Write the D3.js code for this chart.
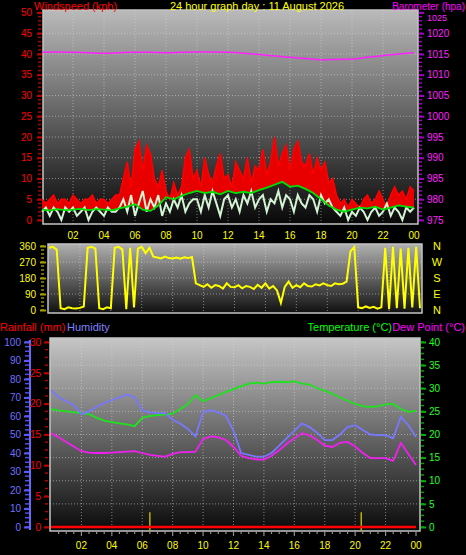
<!DOCTYPE html>
<html><head><meta charset="utf-8">
<script src="https://cdn.jsdelivr.net/npm/d3@7"></script>
<style>body{margin:0;background:#000}svg{display:block}text{font-family:"Liberation Sans",Arial,sans-serif}</style>
</head><body><svg id="c" width="466" height="555"></svg>
<script>
// ---------- DATA ----------
const title = "24 hour graph day : 11 August 2026";
const hourTicks = [2,4,6,8,10,12,14,16,18,20,22,24];
const hourLabels = ["02","04","06","08","10","12","14","16","18","20","22","00"];

// wind, 15-minute samples from 00:00 to 24:00 (kph)
const windGust = [5,4,5,6, 4,5,5,4, 6,5,4,5, 5,6,4,5, 5,4,5,6, 6,10,14,8,
  17,19,12,18, 16,10,8,12, 7,5,9,6, 8,15,17,10, 12,8,15,11, 9,13,16,10,
  11,8,14,12, 10,15,9,13, 12,17,11,14, 20,13,16,18, 12,17,19,14, 13,16,11,15,
  12,14,9,10, 6,4,5,3, 5,4,3,5, 6,4,5,7, 5,3,6,8, 6,7,5,8, 7];
const windSpeed = [2,3,1,3, 2,0,3,2, 3,1,2,3, 0,2,3,2, 1,3,2,2, 3,5,2,6,
  1,4,7,2, 5,3,6,1, 4,2,5,3, 6,2,4,5, 5,2,6,3, 7,4,1,5,
  6,3,5,2, 6,4,7,3, 5,6,2,5, 4,7,3,6, 5,2,6,4, 3,6,5,2,
  6,4,5,3, 2,1,3,0, 2,1,3,2, 0,2,3,1, 2,4,1,3, 2,0,3,2, 3];
// average wind, 30-minute samples
const windAvg = [2.5,2.3,2.6,2.4,2.5,2.7,2.4,2.6,2.5,2.3,
  2.8,3.2,3.8,2.5,2.2,3.5,5.5,5,5.8,6.5,
  7,6.5,6.8,6.2,7,6.5,6.8,6.5,7.2,7.8,
  8.5,9.2,8,8.3,7.5,6.5,5,3.5,2.5,2,
  2.5,3,2.8,3.2,2.5,3,3.5,3.2,3];
// barometer, hourly (hPa)
const baro = [1015.4,1015.5,1015.4,1015.3,1015.2,1015.3,1015.4,1015.4,1015.3,1015.4,1015.5,1015.5,
  1015.4,1015.2,1014.9,1014.5,1014.2,1013.9,1013.6,1013.7,1013.8,1014.2,1014.6,1015.0,1015.3];
// wind direction, 15-minute samples (degrees)
const windDir = [350,355,340,10, 5,15,10,8, 12,20,350,355, 345,10,5,15, 10,350,355,340, 5,350,15,345,
  355,320,350,300, 295,290,300,292, 290,295,288,296, 292,298,150,140, 130,145,125,140, 135,120,150,130,
  128,140,122,135, 130,118,142,125, 150,120,135,110, 40,130,160,125, 140,128,150,135, 132,145,138,150,
  140,135,150,145, 148,160,330,355, 15,10,20,12, 18,8,15,350, 5,355,10,345, 8,350,15,355, 10];
// temperature / dew point (°C), humidity (%), 30-minute samples
const temperature = [25.5,25.2,25.0,24.8,24.6,24.4,23.6,23.0,22.7,22.4,22.2,21.8,23.6,24.0,24.2,24.3,24.5,25.5,
  26.6,28.5,27.2,27.8,28.5,29.2,29.8,30.4,31.0,31.2,31.0,31.3,31.4,31.3,31.5,31.0,30.8,30.0,
  29.5,28.8,28.0,27.3,26.6,26.1,26.0,26.1,26.5,26.6,25.5,24.9,25.1];
const dewPoint = [20.3,19.4,18.4,17.4,16.4,16.1,16.0,16.0,16.1,16.2,16.3,16.4,16.0,15.6,15.4,15.2,15.8,16.2,
  16.2,16.3,19.0,19.6,19.4,18.8,17.3,15.4,14.9,14.6,14.6,15.4,16.6,18.0,19.2,20.3,19.8,18.8,
  17.6,17.3,18.2,18.4,17.4,16.0,14.9,14.9,14.9,14.3,18.2,15.8,13.4];
const humidity = [74,70,68,66,61,62.5,65,67,68.5,70,71.5,70,63,62,61.6,61.6,58,56,
  53,49,62,63.2,62,60,52,40,39,38,38,40,44,48,52,56,54,51,
  47,47,50,54,55,52.4,50,49.7,49.7,48,59.5,55,48.6];
// rainfall (mm) hourly, and marker times
const rainfall = [0,0,0,0,0,0,0,0,0,0,0,0,0,0,0,0,0,0,0,0,0,0,0,0,0];
const rainMarkTimes = [6.5, 20.4];
const rainMarkValues = [2.4, 2.4];
const dirLetters = ["N","W","S","E","N"];

// ---------- DRAW ----------
const svg = d3.select("#c");
const defs = svg.append("defs");
function grad(id, c0, c1){
  const g = defs.append("linearGradient").attr("id",id).attr("x1",0).attr("y1",0).attr("x2",0).attr("y2",1);
  g.append("stop").attr("offset",0).attr("stop-color",c0);
  g.append("stop").attr("offset",1).attr("stop-color",c1);
}
grad("gTop","#bababa","#080808");
grad("gMid","#b0b0b0","#101010");
grad("gBot","#c6c6c6","#0a0a0a");

const t15 = d3.range(97).map(i=>i*0.25);
const t30 = d3.range(49).map(i=>i*0.5);
const t60 = d3.range(25);

function panel(x0,y0,x1,y1,gid){
  svg.append("rect").attr("x",x0).attr("y",y0).attr("width",x1-x0).attr("height",y1-y0)
    .attr("fill","url(#"+gid+")").attr("stroke","#c4c4c4").attr("stroke-width",1.5);
}
function grid(xs, ys, x0,x1,y0,y1){
  const g = svg.append("g").attr("stroke","#d8d8d8").attr("stroke-opacity",0.55)
    .attr("stroke-dasharray","1,2").attr("stroke-width",1);
  ys.forEach(y=>g.append("line").attr("x1",x0).attr("x2",x1).attr("y1",y).attr("y2",y));
  xs.forEach(x=>g.append("line").attr("x1",x).attr("x2",x).attr("y1",y0).attr("y2",y1));
}
function styleAxis(g, tickColor, textColor, size){
  g.select(".domain").remove();
  g.selectAll("line").attr("stroke",tickColor).attr("stroke-width",2);
  g.selectAll("text").attr("fill",textColor).style("font-size",(size||10)+"px")
    .style("font-family","'Liberation Sans',Arial,sans-serif");
}
function minor(scale, vals, x, len, color){
  const g = svg.append("g").attr("stroke",color).attr("stroke-width",1.5);
  vals.forEach(v=>g.append("line").attr("x1",x).attr("x2",x+len).attr("y1",scale(v)).attr("y2",scale(v)));
}
function text(x,y,s,color,anchor,size){
  svg.append("text").attr("x",x).attr("y",y).attr("fill",color).attr("text-anchor",anchor||"start")
    .style("font-size",(size||11)+"px").text(s);
}
const fmt = d3.format("d");

// ---- TOP PANEL ----
const xT = d3.scaleLinear([0,24],[42,414]);
const yW = d3.scaleLinear([0,50],[220,12.5]);
const yP = d3.scaleLinear([975,1025],[220,12.5]);
panel(43,10,418,224,"gTop");
grid(hourTicks.slice(0,11).map(xT), d3.range(5,50,5).map(yW), 43,418,10,224);

const avgAt = d3.scaleLinear(t30, windAvg);
svg.append("path").datum(t15.map((t,i)=>({t, g:windGust[i]})))
  .attr("fill","#e80000")
  .attr("d", d3.area().x(d=>xT(d.t)).y0(d=>yW(avgAt(d.t))).y1(d=>yW(d.g)));
svg.append("path").datum(windGust).attr("fill","none").attr("stroke","#ff0000").attr("stroke-width",1.5)
  .attr("d", d3.line().x((d,i)=>xT(t15[i])).y(d=>yW(d)));
svg.append("path").datum(windSpeed).attr("fill","none").attr("stroke","#d4f5d4").attr("stroke-width",2)
  .attr("d", d3.line().x((d,i)=>xT(t15[i])).y(d=>yW(d)));
svg.append("path").datum(windAvg).attr("fill","none").attr("stroke","#00e000").attr("stroke-width",1.8)
  .attr("d", d3.line().x((d,i)=>xT(t30[i])).y(d=>yW(d)));
svg.append("path").datum(baro).attr("fill","none").attr("stroke","#ff20ff").attr("stroke-width",1.5)
  .attr("d", d3.line().curve(d3.curveMonotoneX).x((d,i)=>xT(t60[i])).y(d=>yP(d)));

minor(yW, d3.range(0,51,1), 38, 3, "#b00000");
styleAxis(svg.append("g").attr("transform","translate(42,0)")
  .call(d3.axisLeft(yW).tickValues(d3.range(0,51,5)).tickFormat(fmt).tickSize(5).tickPadding(5)), "#c00000", "#ff0000");
minor(yP, d3.range(975,1026,1), 419, 3, "#a000c0");
const rAx = svg.append("g").attr("transform","translate(419,0)")
  .call(d3.axisRight(yP).tickValues(d3.range(975,1026,5)).tickFormat(fmt).tickSize(5).tickPadding(3));
styleAxis(rAx, "#a000c0", "#ff20ff");
// nudge the topmost barometer label below the heading
rAx.selectAll(".tick").filter(d=>d===1025).select("text").attr("dy","0.85em").style("font-size","9px");

// top hour labels
hourTicks.forEach((h,i)=>text(xT(h),239,hourLabels[i],"#ffff00","middle",10));

text(34,10,"Windspeed (kph)","#ff0000","start");
text(257,10,title,"#ffff00","middle");
text(465,9.5,"Barometer (hpa)","#ff00ff","end",10);

// ---- MIDDLE PANEL ----
const xM = d3.scaleLinear([0,24],[49,420]);
const yD = d3.scaleLinear([0,360],[310,246]);
panel(48,244,422,313,"gMid");
grid(hourTicks.slice(0,11).map(xM), [90,180,270].map(yD), 48,422,244,313);
svg.append("path").datum(windDir).attr("fill","none").attr("stroke","#ffff00").attr("stroke-width",2)
  .attr("d", d3.line().x((d,i)=>xM(t15[i])).y(d=>yD(d)));
minor(yD, d3.range(0,361,22.5), 41, 3, "#909000");
styleAxis(svg.append("g").attr("transform","translate(46,0)")
  .call(d3.axisLeft(yD).tickValues([0,90,180,270,360]).tickSize(6).tickPadding(4)), "#a0a000", "#ffff00");
dirLetters.forEach((l,i)=>text(437,yD(360-i*90)+4,l,"#ffff00","middle",11));

// ---- BOTTOM PANEL ----
const xB = d3.scaleLinear([0,24],[51,416]);
const yH = d3.scaleLinear([0,100],[527,342]);
const yR = d3.scaleLinear([0,30],[527,342]);
const yT = d3.scaleLinear([0,40],[527,342]);
panel(50,338,420,531,"gBot");
grid(hourTicks.slice(0,11).map(xB), d3.range(5,40,5).map(yT), 50,420,338,531);

svg.append("path").datum(temperature).attr("fill","none").attr("stroke","#20e020").attr("stroke-width",1.8)
  .attr("d", d3.line().x((d,i)=>xB(t30[i])).y(d=>yT(d)));
svg.append("path").datum(humidity).attr("fill","none").attr("stroke","#7878ff").attr("stroke-width",1.8)
  .attr("d", d3.line().x((d,i)=>xB(t30[i])).y(d=>yH(d)));
svg.append("path").datum(dewPoint).attr("fill","none").attr("stroke","#f020f0").attr("stroke-width",1.8)
  .attr("d", d3.line().x((d,i)=>xB(t30[i])).y(d=>yT(d)));
rainMarkTimes.forEach((t,i)=>svg.append("line").attr("x1",xB(t)).attr("x2",xB(t))
  .attr("y1",yR(rainMarkValues[i])).attr("y2",531).attr("stroke","#c0b000").attr("stroke-width",1.5));
svg.append("path").datum(rainfall).attr("fill","none").attr("stroke","#ff0000").attr("stroke-width",2.5)
  .attr("d", d3.line().x((d,i)=>xB(t60[i])).y(d=>yR(d)));

// humidity axis
svg.append("line").attr("x1",30).attr("x2",30).attr("y1",340).attr("y2",530).attr("stroke","#6868ff").attr("stroke-width",2);
minor(yH, d3.range(0,101,2.5), 25, 4, "#5050e0");
styleAxis(svg.append("g").attr("transform","translate(29,0)")
  .call(d3.axisLeft(yH).tickValues(d3.range(0,101,10)).tickSize(5).tickPadding(3)), "#5858ff", "#7070ff");
minor(yR, d3.range(0,31,1.25), 45, 3, "#b00000");
styleAxis(svg.append("g").attr("transform","translate(49,0)")
  .call(d3.axisLeft(yR).tickValues(d3.range(0,31,5)).tickSize(5).tickPadding(3)), "#c00000", "#ff0000");
minor(yT, d3.range(0,41,1.25), 421, 3, "#00a000");
styleAxis(svg.append("g").attr("transform","translate(421,0)")
  .call(d3.axisRight(yT).tickValues(d3.range(0,41,5)).tickSize(5).tickPadding(3)), "#00b000", "#20ff20");
// bottom hour ticks & labels
const bt = svg.append("g").attr("stroke","#909090").attr("stroke-width",1.2);
d3.range(0.5,24.01,0.5).forEach(h=>bt.append("line").attr("x1",xB(h)).attr("x2",xB(h)).attr("y1",532).attr("y2",h%2===0?536:534));
hourTicks.forEach((h,i)=>text(xB(h),549,hourLabels[i],"#ffff00","middle",10));

text(0,331,"Rainfall (mm)","#ff0000","start");
text(67,331,"Humidity","#8080ff","start");
text(392,331,"Temperature (°C)","#00ff00","end");
text(465,331,"Dew Point (°C)","#ff00ff","end");
</script></body></html>
